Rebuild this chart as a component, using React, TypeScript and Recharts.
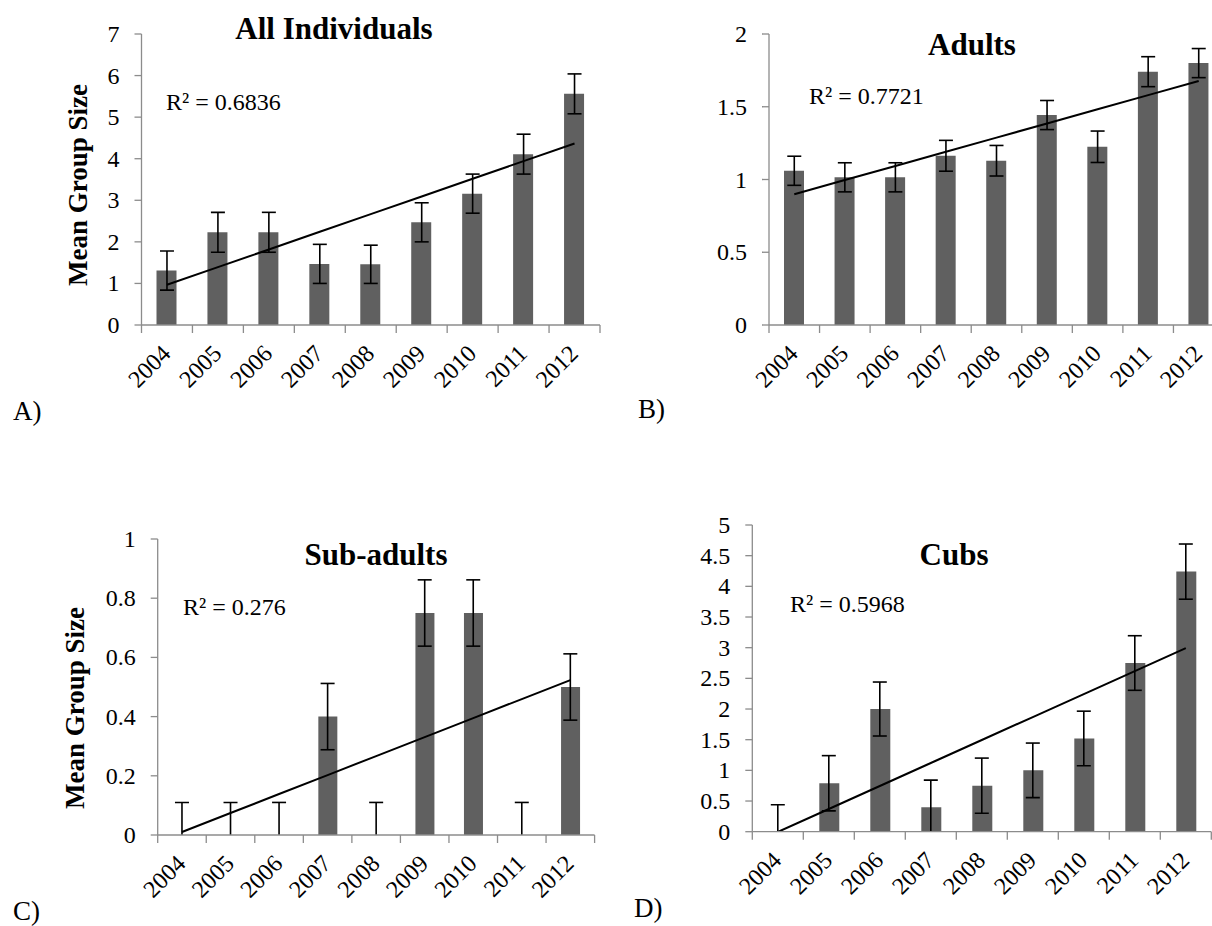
import React from 'react';
import { ComposedChart, Bar, Line, Scatter, XAxis, YAxis, ErrorBar } from 'recharts';

const years = ['2004', '2005', '2006', '2007', '2008', '2009', '2010', '2011', '2012'];

const allMean = [1.31, 2.23, 2.23, 1.47, 1.46, 2.47, 3.16, 4.11, 5.56];
const allErr = [0.47, 0.48, 0.48, 0.47, 0.46, 0.47, 0.47, 0.48, 0.48];

const adultMean = [1.06, 1.015, 1.015, 1.163, 1.129, 1.443, 1.225, 1.741, 1.8];
const adultErr = [0.1, 0.1, 0.1, 0.106, 0.105, 0.1, 0.108, 0.103, 0.1];

const subMean = [0, 0, 0, 0.4, 0, 0.75, 0.75, 0, 0.5];
const subErr = [0.11, 0.11, 0.11, 0.112, 0.11, 0.112, 0.112, 0.11, 0.112];

const cubMean = [0, 0.79, 2.0, 0.4, 0.75, 1.0, 1.52, 2.75, 4.24];
const cubErr = [0.44, 0.45, 0.44, 0.44, 0.45, 0.445, 0.445, 0.445, 0.45];

const allTicks = [0, 1, 2, 3, 4, 5, 6, 7];
const adultTicks = [0, 0.5, 1, 1.5, 2];
const subTicks = [0, 0.2, 0.4, 0.6, 0.8, 1];
const cubTicks = [0, 0.5, 1, 1.5, 2, 2.5, 3, 3.5, 4, 4.5, 5];

const FONT = '"Liberation Serif", "Times New Roman", serif';
const AXIS = '#8c8c8c';
const BAR = '#606060';

function linFit(vals: number[]) {
  const n = vals.length;
  const mx = (n - 1) / 2;
  const my = vals.reduce((a, b) => a + b, 0) / n;
  let sxy = 0;
  let sxx = 0;
  vals.forEach((v, i) => {
    sxy += (i - mx) * (v - my);
    sxx += (i - mx) * (i - mx);
  });
  const b = sxy / sxx;
  const a = my - b * mx;
  return vals.map((_, i) => a + b * i);
}

function buildRows(mean: number[], err: number[]) {
  const trend = linFit(mean);
  return years.map((y, i) => ({
    year: y,
    value: mean[i],
    err: err[i],
    trend: trend[i],
  }));
}

type Cfg = {
  x0: number;
  y0: number;
  w: number;
  h: number;
  plotLeft: number;
  plotRight: number;
  plotTop: number;
  plotBottom: number;
  yMax: number;
  yTicks: number[];
  rows: any[];
  barSize: number;
};

const YW = 70;
const XH = 1;

function XTick(props: any) {
  const { x, y, payload, index, band } = props;
  const left = x - band / 2;
  const ax = x + 5;
  const ay = y + 30;
  return (
    <g>
      <line x1={left} y1={y} x2={left} y2={y + 8} stroke={AXIS} strokeWidth={1.3} />
      {index === years.length - 1 && (
        <line x1={x + band / 2} y1={y} x2={x + band / 2} y2={y + 8} stroke={AXIS} strokeWidth={1.3} />
      )}
      <text
        x={ax}
        y={ay}
        textAnchor="end"
        transform={`rotate(-45 ${ax} ${ay})`}
        fontSize={24}
        fontFamily={FONT}
        fill="#000"
      >
        {payload.value}
      </text>
    </g>
  );
}

function YTick(props: any) {
  const { x, y, payload } = props;
  return (
    <text x={x} y={y + 8} textAnchor="end" fontSize={24} fontFamily={FONT} fill="#000">
      {payload.value}
    </text>
  );
}

const noShape = () => <g />;

function Panel({ cfg, idx }: { cfg: Cfg; idx: number }) {
  const band = (cfg.plotRight - cfg.plotLeft) / years.length;
  const margin = {
    top: cfg.plotTop - cfg.y0,
    left: cfg.plotLeft - cfg.x0 - YW,
    right: cfg.x0 + cfg.w - cfg.plotRight,
    bottom: cfg.y0 + cfg.h - cfg.plotBottom - XH,
  };
  return (
    <div className={'panel' + idx} style={{ position: 'absolute', left: cfg.x0, top: cfg.y0 }}>
      <ComposedChart width={cfg.w} height={cfg.h} data={cfg.rows} margin={margin}>
        <XAxis
          dataKey="year"
          height={XH}
          interval={0}
          tickLine={false}
          tickSize={0}
          tickMargin={0}
          axisLine={{ stroke: AXIS, strokeWidth: 1.3 }}
          tick={(p: any) => <XTick {...p} band={band} />}
        />
        <YAxis
          width={YW}
          type="number"
          domain={[0, cfg.yMax]}
          ticks={cfg.yTicks}
          allowDataOverflow
          interval={0}
          tickSize={7}
          tickMargin={15}
          tickLine={{ stroke: AXIS, strokeWidth: 1.3 }}
          axisLine={{ stroke: AXIS, strokeWidth: 1.3 }}
          tick={(p: any) => <YTick {...p} />}
        />
        <Bar dataKey="value" fill={BAR} barSize={cfg.barSize} isAnimationActive={false} />
        <Scatter dataKey="value" shape={noShape} isAnimationActive={false}>
          <ErrorBar
            dataKey="err"
            width={7}
            stroke="#000"
            strokeWidth={1.6}
            direction="y"
            clipPath={`url(#ebclip${idx})`}
          />
        </Scatter>
        <Line
          dataKey="trend"
          type="linear"
          stroke="#000"
          strokeWidth={2}
          dot={false}
          activeDot={false}
          isAnimationActive={false}
        />
      </ComposedChart>
    </div>
  );
}

const panels: Cfg[] = [
  {
    x0: 0, y0: 0, w: 610, h: 440,
    plotLeft: 141.5, plotRight: 600, plotTop: 34, plotBottom: 325,
    yMax: 7, yTicks: allTicks, rows: buildRows(allMean, allErr), barSize: 20,
  },
  {
    x0: 620, y0: 0, w: 620, h: 440,
    plotLeft: 769, plotRight: 1224, plotTop: 34, plotBottom: 325,
    yMax: 2, yTicks: adultTicks, rows: buildRows(adultMean, adultErr), barSize: 20,
  },
  {
    x0: 0, y0: 480, w: 610, h: 446,
    plotLeft: 157.7, plotRight: 594.6, plotTop: 539, plotBottom: 835,
    yMax: 1, yTicks: subTicks, rows: buildRows(subMean, subErr), barSize: 19,
  },
  {
    x0: 620, y0: 480, w: 620, h: 446,
    plotLeft: 752.3, plotRight: 1211.3, plotTop: 525, plotBottom: 831.7,
    yMax: 5, yTicks: cubTicks, rows: buildRows(cubMean, cubErr), barSize: 20,
  },
];

const titles = [
  { text: 'All Individuals', x: 334, y: 39 },
  { text: 'Adults', x: 972, y: 55 },
  { text: 'Sub-adults', x: 376, y: 565 },
  { text: 'Cubs', x: 954, y: 565 },
];

const r2Labels = [
  { text: 'R² = 0.6836', x: 166, y: 110 },
  { text: 'R² = 0.7721', x: 809, y: 104 },
  { text: 'R² = 0.276', x: 183, y: 615 },
  { text: 'R² = 0.5968', x: 790, y: 612 },
];

const panelLetters = [
  { text: 'A)', x: 13, y: 420 },
  { text: 'B)', x: 638, y: 418 },
  { text: 'C)', x: 13, y: 920 },
  { text: 'D)', x: 634, y: 917 },
];

const yLabels = [
  { text: 'Mean Group Size', x: 87, y: 185 },
  { text: 'Mean Group Size', x: 84, y: 708 },
];

const cssRules = panels
  .map((_, i) => `.panel${i} .recharts-errorBars, .panel${i} .recharts-errorBar { clip-path: url(#ebclip${i}); }`)
  .join('\n');

export default function App() {
  return (
    <div
      style={{
        position: 'fixed',
        left: 0,
        top: 0,
        width: 1212,
        height: 926,
        overflow: 'hidden',
        background: '#fff',
        fontFamily: FONT,
      }}
    >
      <style>{cssRules}</style>
      <svg width={0} height={0} style={{ position: 'absolute', left: 0, top: 0 }}>
        <defs>
          {panels.map((p, i) => (
            <clipPath key={i} id={`ebclip${i}`} clipPathUnits="userSpaceOnUse">
              <rect
                x={p.plotLeft - p.x0 - 40}
                y={p.plotTop - p.y0 - 40}
                width={p.plotRight - p.plotLeft + 80}
                height={p.plotBottom - p.plotTop + 40}
              />
            </clipPath>
          ))}
        </defs>
      </svg>
      {panels.map((p, i) => (
        <Panel key={i} cfg={p} idx={i} />
      ))}
      <svg
        width={1212}
        height={926}
        style={{ position: 'absolute', left: 0, top: 0, pointerEvents: 'none' }}
      >
        {titles.map((t, i) => (
          <text key={'t' + i} x={t.x} y={t.y} textAnchor="middle" fontSize={31} fontWeight="bold" fontFamily={FONT} fill="#000">
            {t.text}
          </text>
        ))}
        {r2Labels.map((t, i) => (
          <text key={'r' + i} x={t.x} y={t.y} fontSize={24} fontFamily={FONT} fill="#000">
            {t.text}
          </text>
        ))}
        {panelLetters.map((t, i) => (
          <text key={'p' + i} x={t.x} y={t.y} fontSize={27} fontFamily={FONT} fill="#000">
            {t.text}
          </text>
        ))}
        {yLabels.map((t, i) => (
          <text
            key={'y' + i}
            x={t.x}
            y={t.y}
            textAnchor="middle"
            transform={`rotate(-90 ${t.x} ${t.y})`}
            fontSize={27}
            fontWeight="bold"
            fontFamily={FONT}
            fill="#000"
          >
            {t.text}
          </text>
        ))}
      </svg>
    </div>
  );
}
